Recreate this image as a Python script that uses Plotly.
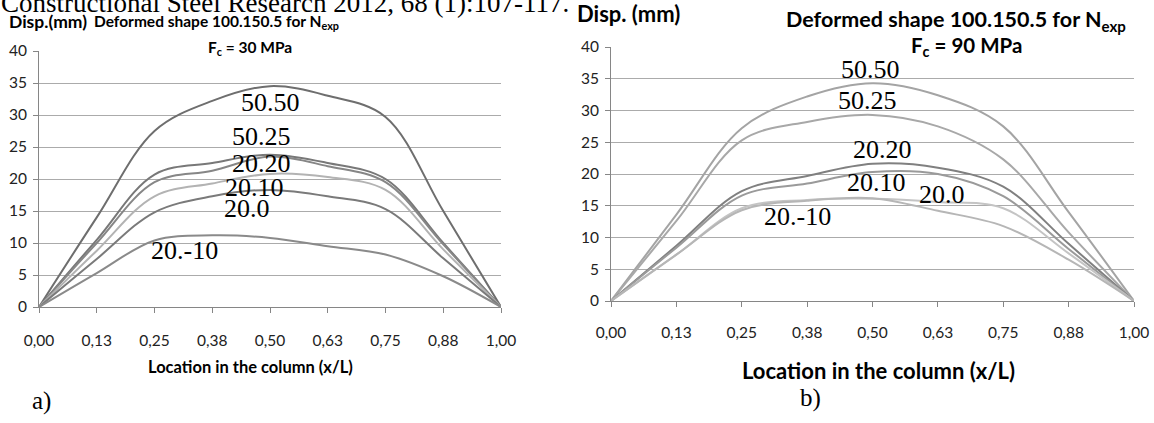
import plotly.graph_objects as go

W, H = 1154, 423

# ---------------- data ----------------
x_labels = ["0,00", "0,13", "0,25", "0,38", "0,50", "0,63", "0,75", "0,88", "1,00"]
y_ticks = [0, 5, 10, 15, 20, 25, 30, 35, 40]

series_names = ["50.50", "50.25", "20.20", "20.10", "20.0", "20.-10"]

# a) Fc = 30 MPa
a_50_50 = [0, 14.0, 27.5, 32.2, 34.5, 33.0, 29.7, 15.0, 0]
a_50_25 = [0, 10.5, 20.7, 22.5, 23.8, 22.5, 20.0, 10.0, 0]
a_20_20 = [0, 10.0, 19.5, 21.3, 23.5, 22.0, 19.5, 9.8, 0]
a_20_10 = [0, 8.8, 17.3, 19.3, 20.8, 20.3, 18.3, 9.0, 0]
a_20_0 = [0, 7.5, 14.8, 17.3, 18.3, 17.3, 15.3, 7.6, 0]
a_20_m10 = [0, 5.3, 10.4, 11.2, 10.8, 9.5, 8.2, 4.8, 0]

# b) Fc = 90 MPa
b_50_50 = [0, 13.6, 27.2, 32.2, 34.3, 32.4, 27.5, 14.0, 0]
b_50_25 = [0, 12.6, 25.3, 28.2, 29.3, 27.5, 22.3, 10.8, 0]
b_20_20 = [0, 8.7, 17.3, 19.7, 21.6, 21.0, 18.0, 9.0, 0]
b_20_10 = [0, 8.4, 16.6, 18.5, 20.3, 20.0, 16.5, 8.2, 0]
b_20_0 = [0, 7.3, 14.6, 15.9, 16.1, 15.6, 14.6, 7.5, 0]
b_20_m10 = [0, 7.3, 14.3, 15.8, 16.2, 14.2, 11.8, 6.5, 0]

a_series = [a_50_50, a_50_25, a_20_20, a_20_10, a_20_0, a_20_m10]
b_series = [b_50_50, b_50_25, b_20_20, b_20_10, b_20_0, b_20_m10]

a_colors = ["#6e6e6e", "#787878", "#868686", "#b3b3b3", "#7a7a7a", "#8a8a8a"]
b_colors = ["#a4a4a4", "#a8a8a8", "#808080", "#9a9a9a", "#c4c4c4", "#b6b6b6"]

# ---------------- figure ----------------
fig = go.Figure()

for vals, name, col in zip(a_series, series_names, a_colors):
    fig.add_trace(go.Scatter(x=x_labels, y=vals, name=name, mode="lines",
                             line=dict(color=col, width=2, shape="spline", smoothing=1.0),
                             xaxis="x", yaxis="y", showlegend=False, hoverinfo="skip"))
for vals, name, col in zip(b_series, series_names, b_colors):
    fig.add_trace(go.Scatter(x=x_labels, y=vals, name=name, mode="lines",
                             line=dict(color=col, width=2, shape="spline", smoothing=1.0),
                             xaxis="x2", yaxis="y2", showlegend=False, hoverinfo="skip"))

def px_x(p):
    return p / W

def px_y(p):
    return 1 - p / H

axis_line = "#868686"
grid_col = "#ababab"
tick_font = dict(family="Lato, 'Open Sans', sans-serif", size=15.5, color="#222222")

def xaxis(domain, anchor, standoff):
    return dict(domain=domain, anchor=anchor, type="category", range=[0, len(x_labels) - 1],
                showgrid=False, showline=True, linecolor=axis_line, linewidth=1,
                ticks="outside", ticklen=5, tickcolor=axis_line, tickfont=tick_font,
                ticklabelstandoff=standoff, automargin=False,
                zeroline=False, fixedrange=True)

def yaxis(domain, anchor):
    return dict(domain=domain, anchor=anchor, range=[0, 40], tickvals=y_ticks,
                showgrid=True, gridcolor=grid_col, gridwidth=1,
                showline=True, linecolor=axis_line, linewidth=1,
                ticks="outside", ticklen=5, tickcolor=axis_line, tickfont=tick_font,
                ticklabelstandoff=3, automargin=False,
                zeroline=False, fixedrange=True)

fig.update_layout(
    template="none",
    width=W, height=H, autosize=False,
    margin=dict(l=0, r=0, t=0, b=0, pad=0),
    paper_bgcolor="white", plot_bgcolor="white",
    xaxis=xaxis([px_x(39), px_x(501)], "y", 14),
    yaxis=yaxis([px_y(307), px_y(51)], "x"),
    xaxis2=xaxis([px_x(611), px_x(1134)], "y2", 12),
    yaxis2=yaxis([px_y(301), px_y(47)], "x2"),
)

title_font = "Lato, 'Open Sans', sans-serif"
label_font = "'Liberation Serif', 'Times New Roman', serif"

def txt(text, x, y, size, family, xanchor="left"):
    return dict(text=text, xref="paper", yref="paper", x=px_x(x), y=px_y(y),
                xanchor=xanchor, yanchor="middle", showarrow=False,
                font=dict(family=family, size=size, color="black"))

ann = []
# cropped caption line at the very top
ann.append(txt("Constructional Steel Research 2012, 68 (1):107-117.", -1, 3, 27, label_font))

# chart a) texts
ann.append(txt("<b>Disp.(mm)</b>", 7, 22, 17.5, title_font))
ann.append(txt("<b>Deformed shape 100.150.5 for N<sub>exp</sub></b>", 92, 22, 15.5, title_font))
ann.append(txt("<b>F<sub>c</sub> = 30 MPa</b>", 250, 48, 15.5, title_font, "center"))
ann.append(txt("<b>Location in the column (x/L)</b>", 250, 367, 16.5, title_font, "center"))
ann.append(txt("a)", 30, 401, 25, label_font))

# chart b) texts
ann.append(txt("<b>Disp. (mm)</b>", 575, 13, 22, title_font))
ann.append(txt("<b>Deformed shape 100.150.5 for N<sub>exp</sub></b>", 956, 21, 21.5, title_font, "center"))
ann.append(txt("<b>F<sub>c</sub> = 90 MPa</b>", 966, 46, 20.5, title_font, "center"))
ann.append(txt("<b>Location in the column (x/L)</b>", 878, 370, 22, title_font, "center"))
ann.append(txt("b)", 798, 398, 25, label_font))

# series labels (data coordinates)
a_label_pos = [(4.0, 32.0), (3.86, 26.6), (3.86, 22.4), (3.73, 18.6), (3.61, 15.4), (2.52, 8.9)]
b_label_pos = [(3.97, 36.5), (3.93, 31.6), (4.15, 23.9), (4.06, 18.7), (5.07, 16.7), (2.85, 13.3)]
for (lx, ly), name in zip(a_label_pos, series_names):
    ann.append(dict(text=name, xref="x", yref="y", x=lx, y=ly, xanchor="center", yanchor="middle",
                    showarrow=False, font=dict(family=label_font, size=26, color="black")))
for (lx, ly), name in zip(b_label_pos, series_names):
    ann.append(dict(text=name, xref="x2", yref="y2", x=lx, y=ly, xanchor="center", yanchor="middle",
                    showarrow=False, font=dict(family=label_font, size=26, color="black")))

fig.update_layout(annotations=ann)

fig.write_html("out.html")
